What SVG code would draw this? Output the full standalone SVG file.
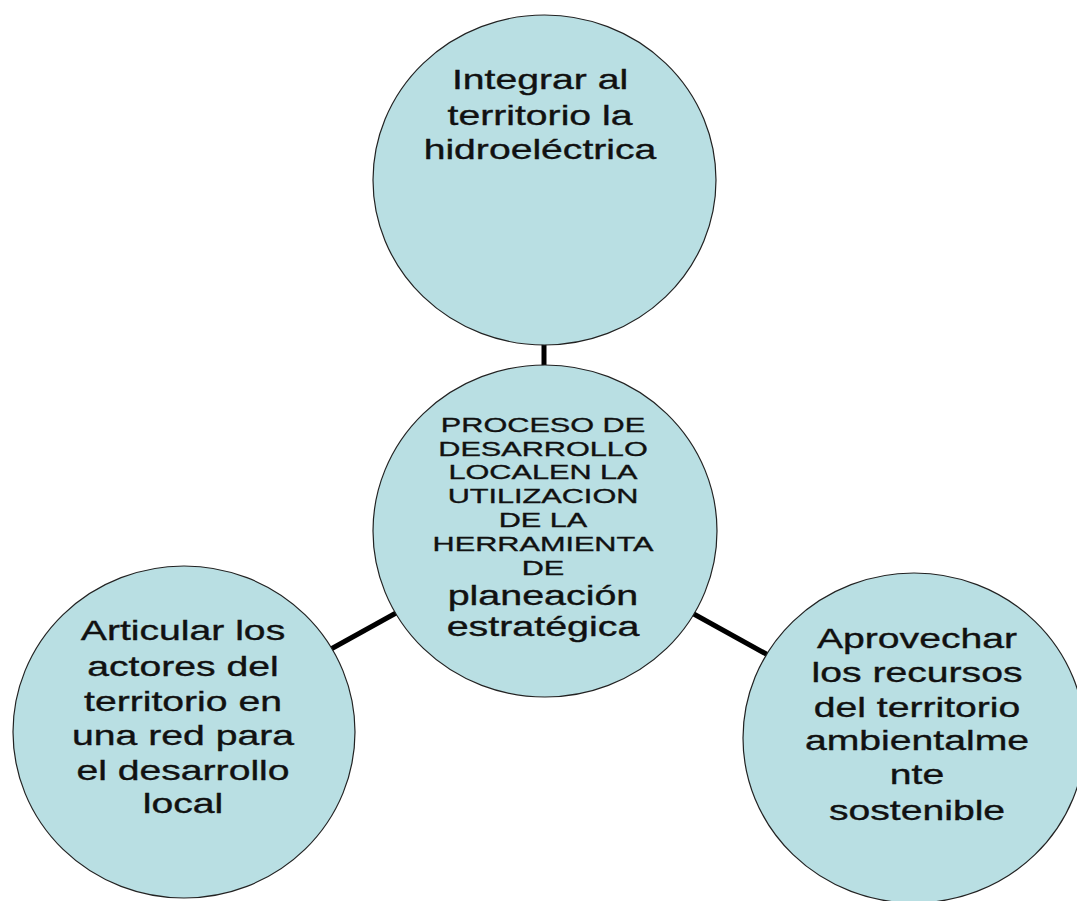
<svg xmlns="http://www.w3.org/2000/svg" width="1077" height="901" viewBox="0 0 1077 901">
<style>
.node{fill:#b9dfe3;stroke:#222;stroke-width:1.2}
.conn{stroke:#000;stroke-width:5;fill:none}
.t{font-family:"Liberation Sans",Arial,sans-serif;font-size:27px;fill:#111;stroke:#111;stroke-width:0.35;text-anchor:middle}
.tc{font-family:"Liberation Sans",Arial,sans-serif;font-size:21px;fill:#111;stroke:#111;stroke-width:0.35;text-anchor:middle}
</style>
<rect width="1077" height="901" fill="#fff"/>
<g id="connectors">
<line class="conn" x1="544" y1="344" x2="544" y2="367"/>
<line class="conn" x1="396" y1="613" x2="331" y2="649"/>
<line class="conn" x1="692" y1="613" x2="768" y2="655"/>
</g>
<g id="node-top">
<ellipse class="node" cx="544.5" cy="180" rx="171.5" ry="165"/>
<g transform="translate(540,0) scale(1.45,1)">
<text class="t" x="0" y="89">Integrar al</text>
<text class="t" x="0" y="125">territorio la</text>
<text class="t" x="0" y="159">hidroeléctrica</text>
</g>
</g>
<g id="node-center">
<ellipse class="node" cx="545" cy="531" rx="172" ry="166"/>
<g transform="translate(543,0) scale(1.46,1)">
<text class="tc" x="0" y="432">PROCESO DE</text>
<text class="tc" x="0" y="456">DESARROLLO</text>
<text class="tc" x="0" y="479">LOCALEN LA</text>
<text class="tc" x="0" y="503">UTILIZACION</text>
<text class="tc" x="0" y="527">DE LA</text>
<text class="tc" x="0" y="551">HERRAMIENTA</text>
<text class="tc" x="0" y="575">DE</text>
<text class="t" x="0" y="605">planeación</text>
<text class="t" x="0" y="636">estratégica</text>
</g>
</g>
<g id="node-left">
<ellipse class="node" cx="184" cy="732" rx="171" ry="166"/>
<g transform="translate(183,0) scale(1.45,1)">
<text class="t" x="0" y="640">Articular los</text>
<text class="t" x="0" y="676">actores del</text>
<text class="t" x="0" y="711">territorio en</text>
<text class="t" x="0" y="745">una red para</text>
<text class="t" x="0" y="780">el desarrollo</text>
<text class="t" x="0" y="813">local</text>
</g>
</g>
<g id="node-right">
<ellipse class="node" cx="914" cy="738" rx="171" ry="165"/>
<g transform="translate(917,0) scale(1.45,1)">
<text class="t" x="0" y="648">Aprovechar</text>
<text class="t" x="0" y="682">los recursos</text>
<text class="t" x="0" y="717">del territorio</text>
<text class="t" x="0" y="750">ambientalme</text>
<text class="t" x="0" y="784">nte</text>
<text class="t" x="0" y="820">sostenible</text>
</g>
</g>
</svg>
